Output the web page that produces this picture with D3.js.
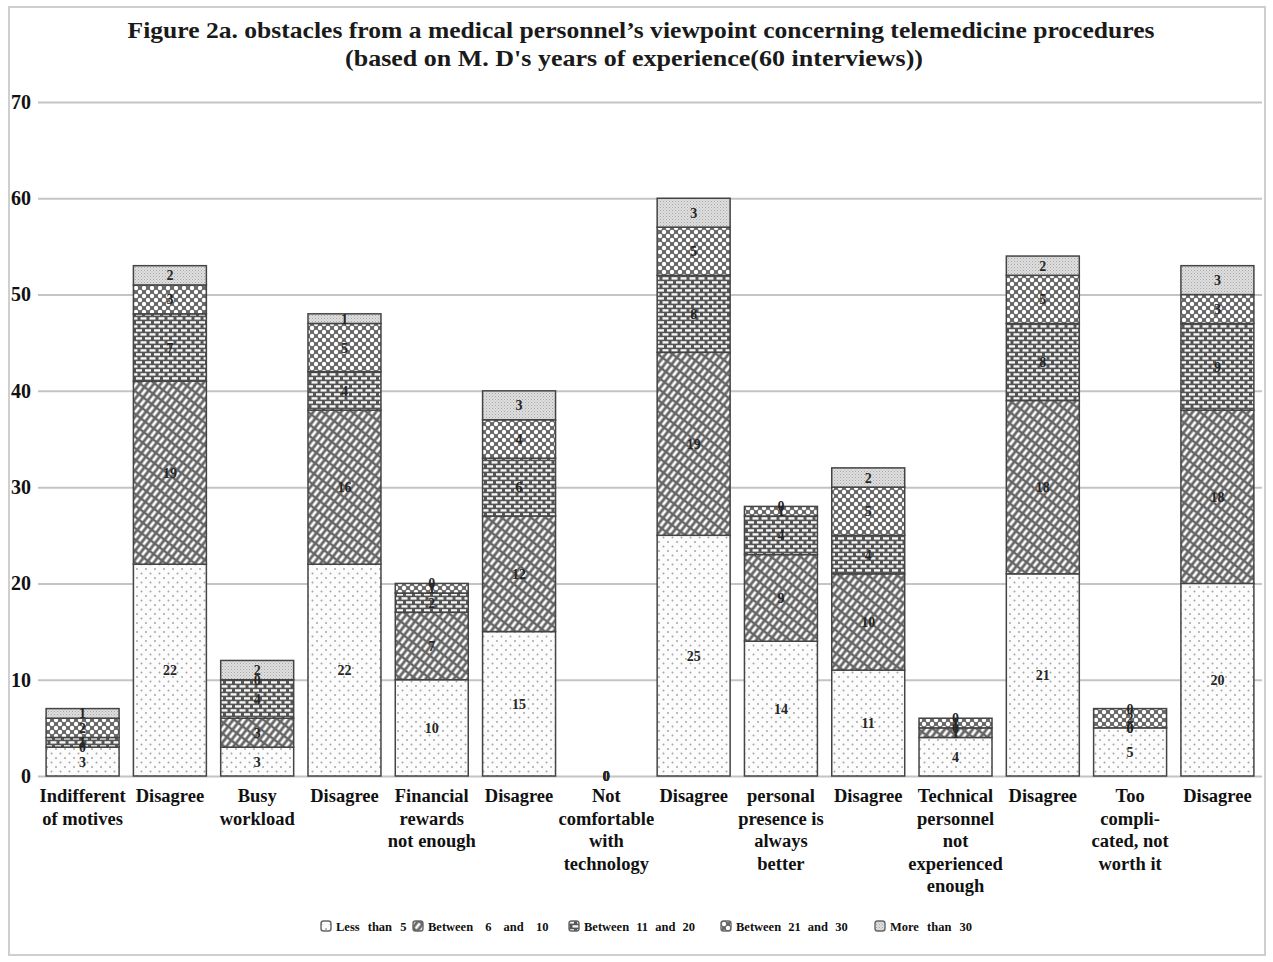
<!DOCTYPE html>
<html>
<head>
<meta charset="utf-8">
<script src="https://cdn.jsdelivr.net/npm/d3@7/dist/d3.min.js"></script>
<style>
  html, body { margin: 0; padding: 0; background: #fff; }
  svg { display: block; }
  text { font-family: "Liberation Serif", "Times New Roman", serif; }
</style>
</head>
<body>
<svg id="chart" width="1273" height="962"></svg>
<script>
// Obstacles by years of experience (counts of medical doctors, 60 interviews)
const categories = [
  "Indifferent of motives", "Disagree (motives)",
  "Busy workload", "Disagree (workload)",
  "Financial rewards not enough", "Disagree (rewards)",
  "Not comfortable with technology", "Disagree (technology)",
  "personal presence is always better", "Disagree (presence)",
  "Technical personnel not experienced enough", "Disagree (personnel)",
  "Too complicated, not worth it", "Disagree (complicated)"
];
const categoryLines = [
  ["Indifferent", "of motives"], ["Disagree"],
  ["Busy", "workload"], ["Disagree"],
  ["Financial", "rewards", "not enough"], ["Disagree"],
  ["Not", "comfortable", "with", "technology"], ["Disagree"],
  ["personal", "presence is", "always", "better"], ["Disagree"],
  ["Technical", "personnel", "not", "experienced", "enough"], ["Disagree"],
  ["Too", "compli-", "cated, not", "worth it"], ["Disagree"]
];
const seriesNames = ["Less than 5", "Between 6 and 10", "Between 11 and 20", "Between 21 and 30", "More than 30"];
const lessThan5   = [3, 22, 3, 22, 10, 15, 0, 25, 14, 11, 4, 21, 5, 20];
const between6_10 = [0, 19, 3, 16,  7, 12, 0, 19,  9, 10, 1, 18, 0, 18];
const between11_20= [1,  7, 4,  4,  2,  6, 0,  8,  4,  4, 0,  8, 0,  9];
const between21_30= [2,  3, 0,  5,  1,  4, 0,  5,  1,  5, 1,  5, 2,  3];
const moreThan30  = [1,  2, 2,  1,  0,  3, 0,  3,  0,  2, 0,  2, 0,  3];
const yTicks = [0, 10, 20, 30, 40, 50, 60, 70];

const seriesValues = [lessThan5, between6_10, between11_20, between21_30, moreThan30];
const rows = categories.map((c, i) => {
  const r = { category: c };
  seriesNames.forEach((s, k) => { r[s] = seriesValues[k][i]; });
  return r;
});

const svg = d3.select("#chart");
const defs = svg.append("defs");

// Fill patterns, one per experience band
function makePattern(id, w, h, transform, draw) {
  const p = defs.append("pattern").attr("id", id)
    .attr("patternUnits", "userSpaceOnUse")
    .attr("width", w).attr("height", h);
  if (transform) p.attr("patternTransform", transform);
  draw(p);
}
makePattern("pDots", 9, 9, null, p => {
  p.append("rect").attr("width", 9).attr("height", 9).attr("fill", "#fcfcfc");
  p.append("circle").attr("cx", 2).attr("cy", 2).attr("r", 1).attr("fill", "#a5a5a5");
  p.append("circle").attr("cx", 6.5).attr("cy", 6.5).attr("r", 1).attr("fill", "#a5a5a5");
});
makePattern("pDiag", 9, 5.5, "rotate(-52)", p => {
  p.append("rect").attr("width", 9).attr("height", 5.5).attr("fill", "#666");
  p.append("rect").attr("x", 1.2).attr("y", 1.4).attr("width", 6.6).attr("height", 2.7).attr("fill", "#fff");
});
makePattern("pBrick", 9, 8, null, p => {
  p.append("rect").attr("width", 9).attr("height", 8).attr("fill", "#555");
  p.append("rect").attr("x", 1).attr("y", 1.2).attr("width", 6).attr("height", 2.4).attr("fill", "#f6f6f6");
  p.append("rect").attr("x", 5.5).attr("y", 5.2).attr("width", 6).attr("height", 2.4).attr("fill", "#f6f6f6");
  p.append("rect").attr("x", -3.5).attr("y", 5.2).attr("width", 6).attr("height", 2.4).attr("fill", "#f6f6f6");
});
makePattern("pCross", 8, 8, null, p => {
  p.append("rect").attr("width", 8).attr("height", 8).attr("fill", "#666");
  [[0,0],[8,0],[0,8],[8,8],[4,4]].forEach(([x, y]) =>
    p.append("circle").attr("cx", x).attr("cy", y).attr("r", 2.2).attr("fill", "#fff"));
});
makePattern("pStipple", 3, 3, null, p => {
  p.append("rect").attr("width", 3).attr("height", 3).attr("fill", "#dedede");
  p.append("rect").attr("x", 0).attr("y", 0).attr("width", 1).attr("height", 1).attr("fill", "#a8a8a8");
  p.append("rect").attr("x", 1.5).attr("y", 1.5).attr("width", 1).attr("height", 1).attr("fill", "#bdbdbd");
});
const fills = d3.scaleOrdinal().domain(seriesNames)
  .range(["url(#pDots)", "url(#pDiag)", "url(#pBrick)", "url(#pCross)", "url(#pStipple)"]);

// Frame
svg.append("rect").attr("x", 9).attr("y", 7).attr("width", 1256).attr("height", 948)
  .attr("fill", "none").attr("stroke", "#cfcfcf").attr("stroke-width", 2);

// Title
const title = svg.append("g").attr("font-weight", "bold").attr("fill", "#1a1a1a")
  .attr("text-anchor", "middle").attr("font-size", 23);
title.append("text").attr("x", 641).attr("y", 38)
  .attr("textLength", 1027).attr("lengthAdjust", "spacingAndGlyphs")
  .text("Figure 2a. obstacles from a medical personnel\u2019s viewpoint concerning telemedicine procedures");
title.append("text").attr("x", 634).attr("y", 66)
  .attr("textLength", 578).attr("lengthAdjust", "spacingAndGlyphs")
  .text("(based on M. D's years of experience(60 interviews))");

// Scales
const x = d3.scaleBand().domain(categories).range([40, 1260]).paddingInner(0.164).paddingOuter(0.07);
const y = d3.scaleLinear().domain([0, 70]).range([776, 102]);

// Grid and y axis labels
const yAxis = d3.axisLeft(y).tickValues(yTicks).tickSize(-1224).tickPadding(7).tickFormat(d3.format("d"));
const gy = svg.append("g").attr("transform", "translate(38,0)").call(yAxis);
gy.select(".domain").remove();
gy.selectAll(".tick line").attr("stroke", "#c4c4c4").attr("stroke-width", 2);
gy.selectAll(".tick text").attr("font-size", 20).attr("font-weight", "bold")
  .attr("fill", "#111").attr("font-family", "Liberation Serif, serif");

// Stacked bars
const stack = d3.stack().keys(seriesNames)(rows);
const layers = svg.append("g").selectAll("g").data(stack).join("g")
  .attr("fill", d => fills(d.key));
layers.selectAll("rect").data(d => d).join("rect")
  .attr("x", d => x(d.data.category))
  .attr("width", x.bandwidth())
  .attr("y", d => y(d[1]))
  .attr("height", d => y(d[0]) - y(d[1]))
  .attr("stroke", "#444").attr("stroke-width", 1.5);

// Value labels inside segments
const labels = svg.append("g").attr("font-size", 14).attr("fill", "#262626")
  .attr("text-anchor", "middle").attr("font-weight", "bold");
stack.forEach(layer => {
  layer.forEach(d => {
    labels.append("text")
      .attr("x", x(d.data.category) + x.bandwidth() / 2)
      .attr("y", (y(d[0]) + y(d[1])) / 2 + 5)
      .text(d[1] - d[0]);
  });
});

// Category labels
const xl = svg.append("g").attr("font-size", 18.5).attr("font-weight", "bold")
  .attr("fill", "#111").attr("text-anchor", "middle");
categories.forEach((c, i) => {
  const t = xl.append("text").attr("x", x(c) + x.bandwidth() / 2).attr("y", 802);
  categoryLines[i].forEach((line, k) => {
    t.append("tspan").attr("x", x(c) + x.bandwidth() / 2).attr("dy", k === 0 ? 0 : 22.5).text(line);
  });
});

// Legend
const legendX = [321, 413, 569, 721, 875];
const legendSpacing = [5, 9, 4, 4, 5];
const lg = svg.append("g").attr("font-size", 12.5).attr("font-weight", "bold").attr("fill", "#111");
seriesNames.forEach((s, k) => {
  lg.append("rect").attr("x", legendX[k]).attr("y", 921).attr("width", 10).attr("height", 10)
    .attr("rx", 2.5).attr("fill", fills(s)).attr("stroke", "#666").attr("stroke-width", 1.4);
  lg.append("text").attr("x", legendX[k] + 15).attr("y", 931)
    .attr("word-spacing", legendSpacing[k]).text(s);
});
</script>
</body>
</html>
